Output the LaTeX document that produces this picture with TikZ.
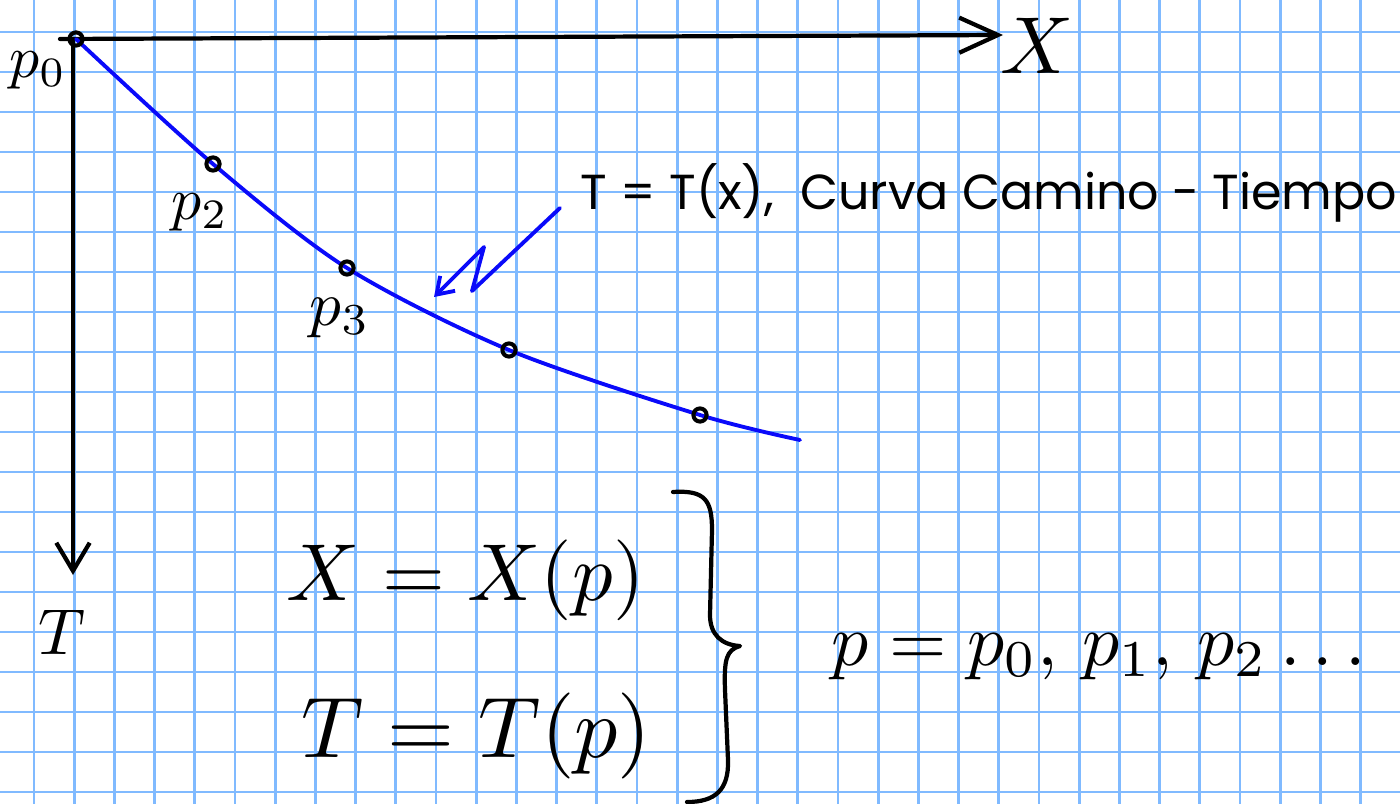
\documentclass[tikz,border=0pt]{standalone}
\usepackage{fontspec}
\newfontfamily\notefont{Poppins}
\usetikzlibrary{arrows.meta, positioning}

\definecolor{gridblue}{RGB}{128,186,255}
\definecolor{curveblue}{RGB}{10,10,250}

\tikzset{
  gridline/.style={draw=gridblue, line width=1.5pt},
  ink/.style={draw=black, line width=2.4pt, line cap=round, line join=round},
  blueink/.style={draw=curveblue, line width=2.2pt, line cap=round, line join=round},
  dot/.style={circle, draw=black, line width=2.3pt, inner sep=0pt, minimum size=7.5pt},
  hand/.style={inner sep=0pt},
}

\begin{document}
\begin{tikzpicture}[x=0.02cm, y=-0.02cm]
  \useasboundingbox (0,0) rectangle (1400,804);
  % squared paper
  \foreach \i in {0,...,33}
    \draw[gridline] (34+40.2*\i,0) -- (34+40.2*\i,804);
  \foreach \j in {0,...,19}
    \draw[gridline] (0,32+40*\j) -- (1400,32+40*\j);

  % axes
  \coordinate (xstart) at (60,39);
  \coordinate (O) at (73,40);
  \coordinate (xend) at (1003,35);
  \coordinate (tend) at (73,575);
  \draw[ink, -{Straight Barb[length=22pt,width=20pt]}] (xstart) -- (xend);
  \draw[ink, -{Straight Barb[length=16pt,width=19pt]}] (O) -- (tend);
  \node[hand, scale=4.6] (xlab) at (1037,46) {$X$}; % horizontal axis
  \node[hand, scale=3.7] (tlab) at (62,632) {$T$}; % vertical axis

  % path-time curve
  \coordinate (p0) at (76,39);
  \coordinate (p2) at (213,164);
  \coordinate (p3) at (347,268);
  \coordinate (p4) at (509,350);
  \coordinate (p5) at (700,415);
  \coordinate (cend) at (800,440);
  \draw[blueink] plot[smooth, tension=0.5] coordinates {(p0) (p2) (p3) (p4) (p5) (cend)};
  \foreach \p in {p0,p2,p3,p4,p5}
    \node[dot] at (\p) {};
  \node[hand, scale=3.4] (lab0) at (38,70) {$p_0$};
  \node[hand, scale=3.4] (lab2) at (200,212) {$p_2$};
  \node[hand, scale=3.6] (lab3) at (340,318) {$p_3$};

  % pointer to the curve
  \coordinate (sq0) at (560,208);
  \coordinate (sq1) at (472,291);
  \coordinate (sq2) at (484,247);
  \coordinate (sqtip) at (434,297);
  \draw[blueink, -{Straight Barb[length=9pt,width=12pt]}] (sq0) -- (sq1) -- (sq2) -- (sqtip);
  \node[hand, anchor=base west, font=\notefont, scale=2.8] (title) at (580,210)
    {T = T(x),~ Curva Camino - Tiempo};

  % parametric equations
  \node[hand, anchor=base west, scale=4.6] (eqx) at (285,600) {$X = X(p)$};
  \node[hand, anchor=base west, scale=4.9] (eqt) at (300,757) {$T = T(p)$};
  \draw[ink] (673,492) .. controls (705,490) and (712,500) .. (712,530)
    -- (710,615) .. controls (710,635) and (722,645) .. (740,646)
    .. controls (726,650) and (724,660) .. (725,690)
    -- (728,760) .. controls (729,790) and (715,802) .. (687,802);
  \node[hand, anchor=base west, scale=4.2] (plist) at (830,665) {$p = p_0,\, p_1,\, p_2 \ldots$};
\end{tikzpicture}
\end{document}
